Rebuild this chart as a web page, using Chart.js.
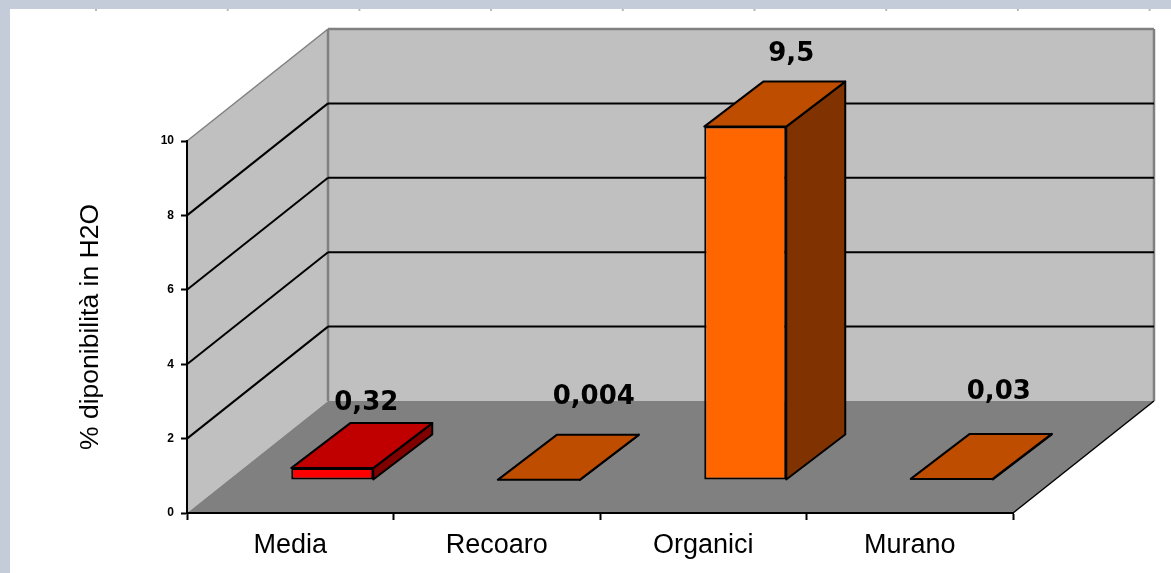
<!DOCTYPE html>
<html>
<head>
<meta charset="utf-8">
<style>
  html, body { margin: 0; padding: 0; background: #c3ccd8; }
  canvas { display: block; }
</style>
<script src="https://cdn.jsdelivr.net/npm/chart.js@4"></script>
</head>
<body>
<canvas id="chart" width="1171" height="573"></canvas>
<script>
const categories = ["Media", "Recoaro", "Organici", "Murano"];
const values = [0.32, 0.004, 9.5, 0.03];
const yTicks = [0, 2, 4, 6, 8, 10];
const axisTitle = "% diponibilità in H2O";

const frontColors = ["#ff0000", "#ff6600", "#ff6600", "#ff6600"];
const topColors = ["#c00000", "#bf4d00", "#bf4d00", "#bf4d00"];
const sideColors = ["#800000", "#803300", "#803300", "#803300"];

// hand placed value labels, relative to the bar's top front centre
const labelNudgeX = [34, 55, 46, 47];
const labelNudgeY = [-65, -83, -72, -87];

const WALL_DX = 141, WALL_DY = -112;   // how far the back wall sits behind the axes
const BAR_DX = 42, BAR_DY = -33;       // front plane of the bars
const DEPTH_DX = 59, DEPTH_DY = -45;   // depth of a bar

function poly(ctx, pts, fill, stroke, width) {
    ctx.beginPath();
    pts.forEach((p, i) => i ? ctx.lineTo(p[0], p[1]) : ctx.moveTo(p[0], p[1]));
    ctx.closePath();
    if (fill) { ctx.fillStyle = fill; ctx.fill(); }
    if (stroke) { ctx.strokeStyle = stroke; ctx.lineWidth = width; ctx.stroke(); }
}

function line(ctx, x1, y1, x2, y2, color, width) {
    ctx.beginPath();
    ctx.moveTo(x1, y1);
    ctx.lineTo(x2, y2);
    ctx.strokeStyle = color;
    ctx.lineWidth = width;
    ctx.stroke();
}

// white panel, walls, floor and gridlines go under the axes
const roomPlugin = {
    id: "room",
    beforeDraw(chart) {
        const ctx = chart.ctx, a = chart.chartArea, y = chart.scales.y;
        ctx.save();
        ctx.fillStyle = "#ffffff";
        ctx.fillRect(10, 9, chart.width - 10, chart.height - 9);
        ctx.fillStyle = "#b4b8bf";
        for (let i = 0; i < 9; i++) ctx.fillRect(95 + i * 131.7, 9, 2, 2);

        const l = a.left, r = a.right, t = y.getPixelForValue(10), b = y.getPixelForValue(0);
        const dx = WALL_DX, dy = WALL_DY;
        poly(ctx, [[l, t], [l + dx, t + dy], [l + dx, b + dy], [l, b]], "#c0c0c0");
        poly(ctx, [[l + dx, t + dy], [r + dx, t + dy], [r + dx, b + dy], [l + dx, b + dy]], "#c0c0c0");
        poly(ctx, [[l, b], [l + dx, b + dy], [r + dx, b + dy], [r, b]], "#808080");

        line(ctx, l, t, l + dx, t + dy, "#808080", 1.5);
        line(ctx, l + dx, t + dy, r + dx, t + dy, "#808080", 2.5);
        line(ctx, l + dx, t + dy, l + dx, b + dy, "#808080", 2.5);
        line(ctx, r + dx, t + dy, r + dx, b + dy, "#808080", 2.5);
        line(ctx, r, b, r + dx, b + dy, "#000000", 1.5);

        yTicks.filter(v => v > 0 && v < 10).forEach(v => {
            const py = y.getPixelForValue(v);
            line(ctx, l, py, l + dx, py + dy, "#000000", 2);
            line(ctx, l + dx, py + dy, r + dx, py + dy, "#000000", 2);
        });
        ctx.restore();
    }
};

// bars are pushed back to their plane, then get a top, a side and a value label
const barPlugin = {
    id: "bars3d",
    beforeDatasetsDraw(chart) {
        chart.ctx.save();
        chart.ctx.translate(BAR_DX, BAR_DY);
    },
    afterDatasetsDraw(chart) {
        const ctx = chart.ctx;
        ctx.restore();
        ctx.save();
        ctx.lineJoin = "round";
        chart.getDatasetMeta(0).data.forEach((bar, i) => {
            const x1 = bar.x - bar.width / 2 + BAR_DX, x2 = bar.x + bar.width / 2 + BAR_DX;
            const yt = bar.y + BAR_DY, yb = bar.base + BAR_DY;
            poly(ctx, [[x2, yt], [x2 + DEPTH_DX, yt + DEPTH_DY], [x2 + DEPTH_DX, yb + DEPTH_DY], [x2, yb]], sideColors[i], "#000000", 2);
            poly(ctx, [[x1, yt], [x1 + DEPTH_DX, yt + DEPTH_DY], [x2 + DEPTH_DX, yt + DEPTH_DY], [x2, yt]], topColors[i], "#000000", 2);

            ctx.fillStyle = "#000000";
            ctx.font = "bold 26px 'DejaVu Sans'";
            ctx.textAlign = "center";
            ctx.textBaseline = "middle";
            ctx.fillText(String(values[i]).replace(".", ","), bar.x + BAR_DX + labelNudgeX[i], yt + labelNudgeY[i]);
        });
        ctx.restore();
    }
};

new Chart(document.getElementById("chart"), {
    type: "bar",
    data: {
        labels: categories,
        datasets: [{
            data: values,
            backgroundColor: frontColors,
            borderColor: "#000000",
            borderWidth: 2,
            borderSkipped: false,
            categoryPercentage: 1,
            barPercentage: 0.397,
            clip: false
        }]
    },
    plugins: [roomPlugin, barPlugin],
    options: {
        responsive: false,
        animation: false,
        layout: { padding: { left: 0, right: 158, top: 141, bottom: 0 } },
        plugins: { legend: { display: false }, tooltip: { enabled: false } },
        scales: {
            x: {
                afterFit: s => { s.height = 60; },
                grid: { drawOnChartArea: false, tickLength: 7, tickWidth: 2, tickColor: "#000000" },
                border: { color: "#000000", width: 2 },
                ticks: { color: "#000000", padding: 9, maxRotation: 0, font: { family: "'Liberation Sans'", size: 27 } }
            },
            y: {
                min: 0,
                max: 10,
                afterFit: s => { s.width = 187; },
                grid: { drawOnChartArea: false, tickLength: 6, tickWidth: 2, tickColor: "#000000" },
                border: { color: "#000000", width: 2 },
                ticks: { color: "#000000", stepSize: 2, padding: 7, font: { family: "'Liberation Sans'", size: 12, weight: "bold" } },
                title: {
                    display: true,
                    text: axisTitle,
                    color: "#000000",
                    padding: { top: 75, bottom: 0 },
                    font: { family: "'Liberation Sans'", size: 26.5 }
                }
            }
        }
    }
});
</script>
</body>
</html>
